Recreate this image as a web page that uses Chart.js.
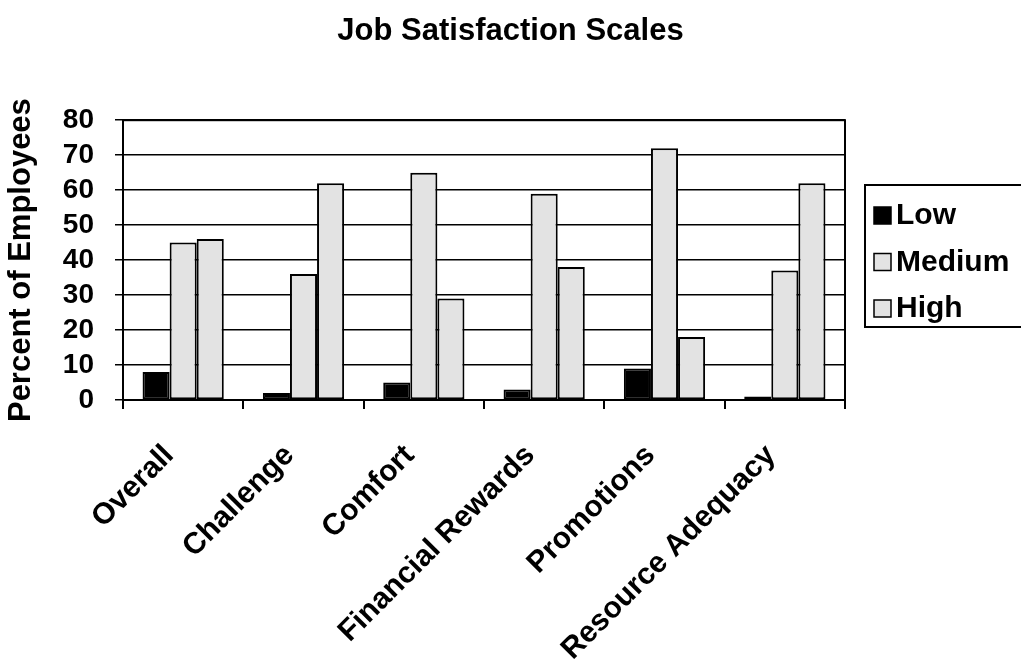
<!DOCTYPE html>
<html>
<head>
<meta charset="utf-8">
<script src="https://cdn.jsdelivr.net/npm/chart.js@4"></script>
<style>
  html, body { margin: 0; padding: 0; background: #fff; }
  #wrap { width: 1021px; height: 671px; }
</style>
</head>
<body>
<div id="wrap"><canvas id="chart" width="1021" height="671"></canvas></div>
<script>
// Job satisfaction scales, percent of employees per level

const categories = ["Overall", "Challenge", "Comfort", "Financial Rewards", "Promotions", "Resource Adequacy"];
const lowValues = [8, 2, 5, 3, 9, 1];
const mediumValues = [45, 36, 65, 59, 72, 37];
const highValues = [46, 62, 29, 38, 18, 62];
const yTicks = [0, 10, 20, 30, 40, 50, 60, 70, 80];

const FONT = "'Liberation Sans', Arial, sans-serif";

// box round the plot area, like the old spreadsheet charts
const frame = {
  id: "frame",
  afterDatasetsDraw(chart) {
    const { ctx, chartArea: a } = chart;
    ctx.save();
    ctx.strokeStyle = "#000";
    ctx.lineWidth = 2;
    ctx.strokeRect(a.left, a.top, a.right - a.left, a.bottom - a.top);
    ctx.restore();
  },
};

// legend drawn in a framed box to the right of the plot
const boxLegend = {
  id: "boxLegend",
  afterDraw(chart) {
    const { ctx } = chart;
    const x = 865, y = 185, w = 170, h = 142;
    ctx.save();
    ctx.strokeStyle = "#000";
    ctx.lineWidth = 2;
    ctx.strokeRect(x, y, w, h);
    ctx.font = "bold 30px " + FONT;
    ctx.textBaseline = "middle";
    chart.data.datasets.forEach((ds, i) => {
      const cy = 215 + i * 46.5;
      ctx.fillStyle = ds.backgroundColor;
      ctx.fillRect(874, cy - 8, 17, 17);
      ctx.lineWidth = 1.5;
      ctx.strokeRect(874, cy - 8, 17, 17);
      ctx.fillStyle = "#000";
      ctx.fillText(ds.label, 896, cy + 1);
    });
    ctx.restore();
  },
};

const barStyle = {
  borderColor: "#000",
  borderWidth: 2,
  borderSkipped: false,
  categoryPercentage: 0.675,
  barPercentage: 1.0,
};

new Chart(document.getElementById("chart"), {
  type: "bar",
  data: {
    labels: categories,
    datasets: [
      { label: "Low", data: lowValues, backgroundColor: "#000000", ...barStyle },
      { label: "Medium", data: mediumValues, backgroundColor: "#e3e3e3", ...barStyle },
      { label: "High", data: highValues, backgroundColor: "#e3e3e3", ...barStyle },
    ],
  },
  options: {
    responsive: false,
    animation: false,
    layout: { padding: 0 },
    scales: {
      x: {
        grid: {
          offset: true,
          drawOnChartArea: false,
          color: "#000",
          lineWidth: 2,
          tickLength: 9,
        },
        border: { color: "#000", width: 2 },
        ticks: {
          color: "#000",
          font: { family: FONT, size: 30, weight: "bold" },
          minRotation: 45,
          maxRotation: 45,
          padding: 29,
          labelOffset: -14,
        },
        afterFit: (scale) => { scale.height = 271; },
      },
      y: {
        min: 0,
        max: 80,
        afterBuildTicks: (scale) => {
          scale.ticks = yTicks.map((v) => ({ value: v }));
        },
        grid: { color: "#000", lineWidth: 1.5, tickLength: 8 },
        border: { color: "#000", width: 2 },
        ticks: {
          color: "#000",
          autoSkip: false,
          font: { family: FONT, size: 28, weight: "bold" },
          padding: 21,
        },
        title: {
          display: true,
          text: "Percent of Employees",
          color: "#000",
          font: { family: FONT, size: 31, weight: "bold" },
          padding: { top: 3, bottom: 4 },
        },
        afterFit: (scale) => { scale.width = 123; },
      },
      // empty right-hand axis that only reserves room for the legend box
      legendSpace: {
        position: "right",
        min: 0,
        max: 80,
        grid: { display: false },
        border: { display: false },
        ticks: { display: false },
        afterFit: (scale) => { scale.width = 176; },
      },
    },
    plugins: {
      legend: { display: false },
      tooltip: { enabled: false },
      title: {
        display: true,
        text: "Job Satisfaction Scales",
        color: "#000",
        font: { family: FONT, size: 31, weight: "bold" },
        padding: { top: 13, bottom: 70 },
      },
    },
  },
  plugins: [frame, boxLegend],
});
</script>
</body>
</html>
